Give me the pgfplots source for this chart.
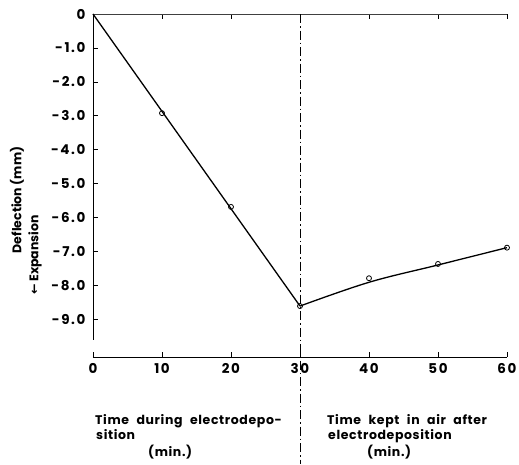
\documentclass[border=0pt]{standalone}
\usepackage{fontspec}
\setmainfont{Poppins}
\newfontfamily\tickfont[LetterSpace=12]{Poppins}
\newfontfamily\labfont[LetterSpace=5]{Poppins}
\newfontfamily\dejavu{DejaVu Sans}
\usepackage{pgfplots}
\pgfplotsset{compat=1.18}

\begin{document}
\begin{tikzpicture}
  \path[use as bounding box] (-93pt,-107pt) rectangle (426pt,357pt);

  \begin{axis}[
    at={(0,0)}, anchor=south west,
    scale only axis,
    width=414pt, height=343pt,
    xmin=0, xmax=60,
    ymin=-10.1, ymax=0,
    axis line style={draw=none},
    clip=false,
    tick align=inside,
    major tick length=5pt,
    tick style={black, line width=0.8pt},
    xtick={0,10,...,60},
    xtick pos=both,
    xticklabel pos=lower,
    ytick={-9,-8,...,0},
    yticklabels={-9.0,-8.0,-7.0,-6.0,-5.0,-4.0,-3.0,-2.0,-1.0,0},
    ytick pos=left,
    /pgf/number format/assume math mode=true,
    tick label style={font=\tickfont\fontsize{13.5}{15}\selectfont\bfseries},
    xticklabel style={yshift=-3pt},
    yticklabel style={xshift=-4pt},
  ]
    % axis lines, drawn by hand: the y axis stops short of the x axis
    \draw[line width=0.9pt] (axis cs:0,0) -- (axis cs:0,-9.6);
    \draw[line width=0.9pt] (axis cs:0,-10.1) -- (axis cs:60,-10.1);
    \draw[line width=0.8pt, black!75] (axis cs:0,0) -- (axis cs:60,0);

    % end of electrodeposition
    \draw[line width=0.8pt, dash pattern=on 9pt off 3pt on 1.5pt off 3pt]
      (axis cs:30,0) -- (axis cs:30,-13.25);

    % during electrodeposition
    \addplot[black, line width=1.3pt] coordinates {(0,0) (30,-8.60)};
    % kept in air after
    \addplot[black, line width=1.3pt, smooth, tension=0.6] coordinates {
      (30,-8.60) (40,-7.90) (50,-7.39) (60,-6.88)};

    % measured points
    \addplot[only marks, mark=o, mark size=2.5pt, black, line width=0.8pt,
      mark options={fill=white}] coordinates {
      (10,-2.92) (20,-5.68) (30,-8.60) (40,-7.78) (50,-7.36) (60,-6.88)};
  \end{axis}

  \begin{scope}[font=\labfont\fontsize{12.5}{14}\selectfont\bfseries,
      every node/.append style={anchor=base west, inner sep=0pt,
        execute at begin node={\spaceskip=0.6em\relax}}]
    \node at (2pt,-67pt) {Time during electrodepo-};
    \node at (3pt,-82pt) {sition};
    \node at (55pt,-99pt) {(min.)};
    \node at (234pt,-67pt) {Time kept in air after};
    \node at (235pt,-82pt) {electrodeposition};
    \node at (274pt,-99pt) {(min.)};
  \end{scope}
  \begin{scope}[font=\fontsize{12.5}{14}\selectfont\bfseries]
    \node[rotate=90, inner sep=0pt] at (-76pt,157pt) {Deflection (mm)};
    \node[rotate=90, inner sep=0pt] at (-58pt,102pt) {{\dejavu\bfseries ←} Expansion};
  \end{scope}
\end{tikzpicture}
\end{document}
